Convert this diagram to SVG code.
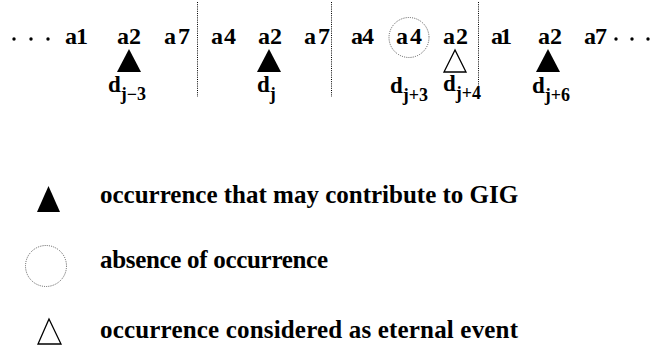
<svg xmlns="http://www.w3.org/2000/svg" width="658" height="351" viewBox="0 0 658 351">
<style>
text{font-family:"Liberation Serif","Times New Roman",serif;font-weight:bold;fill:#000}
.t{font-size:24px}
.d{font-size:23px}
.s{font-size:18px}
.lg{font-size:25px}
.div{stroke:#000;stroke-width:1;stroke-dasharray:1,1.2;fill:none}
.circ{stroke:#555;stroke-width:1;stroke-dasharray:1,1.2;fill:none}
.full{fill:#000}
.open{fill:#fff;stroke:#000;stroke-width:1.3}
</style>
<rect width="658" height="351" fill="#fff"/>
<g id="dividers">
<line class="div" x1="197.5" y1="2" x2="197.5" y2="97"/>
<line class="div" x1="331.5" y1="2" x2="331.5" y2="97"/>
<line class="div" x1="478.5" y1="2" x2="478.5" y2="97"/>
</g>
<g id="sequence">
<circle cx="14" cy="39" r="1.7"/><circle cx="31" cy="39" r="1.7"/><circle cx="48" cy="39" r="1.7"/>
<text class="t" x="65" y="44" textLength="23">a1</text>
<text class="t" x="117" y="44" textLength="24">a2</text>
<text class="t" x="164" y="44" textLength="26">a7</text>
<text class="t" x="211" y="44" textLength="25">a4</text>
<text class="t" x="258" y="44" textLength="24">a2</text>
<text class="t" x="304" y="44" textLength="26">a7</text>
<text class="t" x="351" y="44" textLength="23">a4</text>
<text class="t" x="396" y="44" textLength="26">a4</text>
<text class="t" x="443" y="44" textLength="25">a2</text>
<text class="t" x="491" y="44" textLength="21">a1</text>
<text class="t" x="538" y="44" textLength="24">a2</text>
<text class="t" x="584" y="44" textLength="23">a7</text>
<circle cx="616" cy="39" r="1.7"/><circle cx="632" cy="39" r="1.7"/><circle cx="648" cy="39" r="1.7"/>
</g>
<g id="absence-mark"><circle class="circ" cx="409" cy="37.5" r="20"/></g>
<g id="occ-j-3"><polygon class="full" points="129,49 117,72 141,72"/>
<text class="d" x="108" y="92">d<tspan class="s" dy="8">j−3</tspan></text></g>
<g id="occ-j"><polygon class="full" points="269,49 257,72 281,72"/>
<text class="d" x="257" y="92">d<tspan class="s" dy="8">j</tspan></text></g>
<g id="occ-j3"><text class="d" x="390" y="93">d<tspan class="s" dy="8">j+3</tspan></text></g>
<g id="occ-j4"><polygon class="open" points="455,50 444,72 466,72"/>
<text class="d" x="443" y="91">d<tspan class="s" dy="8">j+4</tspan></text></g>
<g id="occ-j6"><polygon class="full" points="548,49 536,72 560,72"/>
<text class="d" x="532" y="93">d<tspan class="s" dy="8">j+6</tspan></text></g>
<g id="legend-full"><polygon class="full" points="48.5,186 37,212 60,212"/>
<text class="lg" x="100" y="203">occurrence that may contribute to GIG</text></g>
<g id="legend-circle"><circle class="circ" cx="46" cy="266" r="20.5"/>
<text class="lg" x="100" y="268" textLength="228">absence of occurrence</text></g>
<g id="legend-open"><polygon class="open" points="49,319 38,344 61,344"/>
<text class="lg" x="100" y="338" textLength="418">occurrence considered as eternal event</text></g>
</svg>
